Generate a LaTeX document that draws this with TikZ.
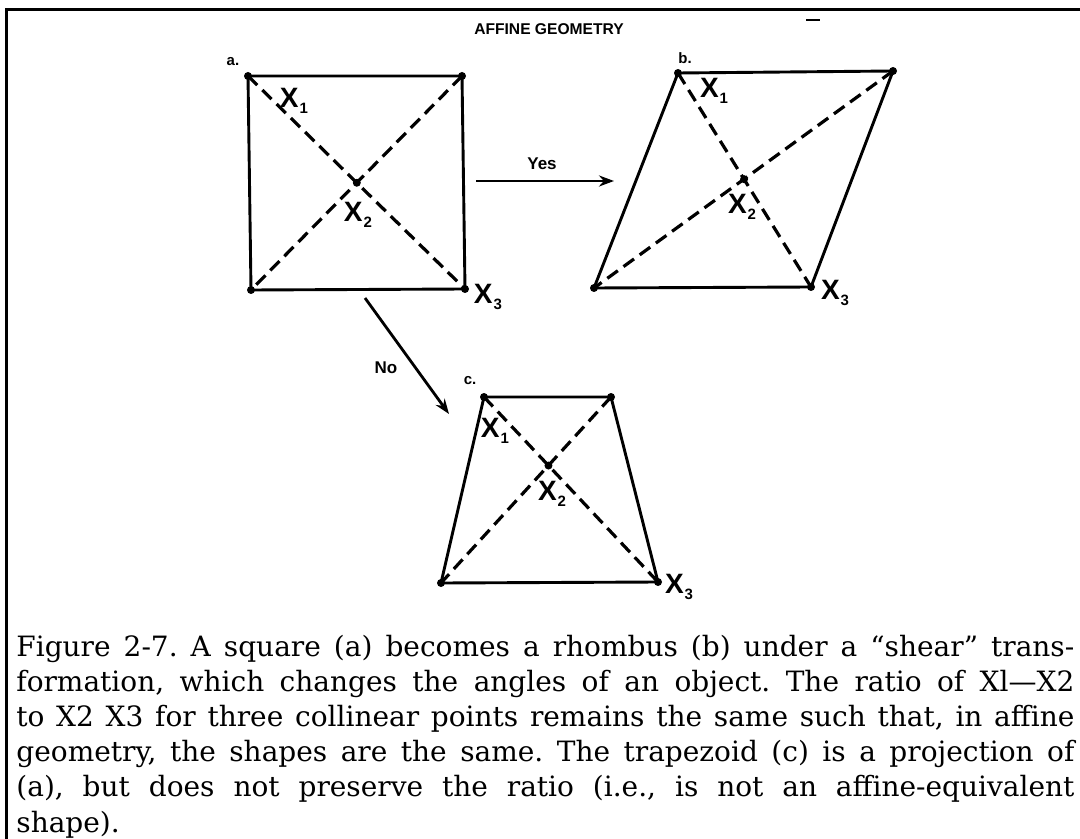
\documentclass[tikz,border=0pt]{standalone}
\usepackage{fontspec}
\setmainfont{DejaVu Serif}
\newfontfamily\labfont{Liberation Sans}
\usetikzlibrary{arrows.meta}
\newcommand{\Xs}[1]{{\labfont\bfseries X\kern0.5pt\raisebox{-2.8pt}{\fontsize{7.5}{7.5}\selectfont #1}}}
\begin{document}
\begin{tikzpicture}[x=0.5pt,y=-0.5pt,
  vtx/.style={circle,fill=black,inner sep=0pt,minimum size=4pt},
  sideline/.style={line width=1.45pt,line join=round},
  diagline/.style={line width=1.6pt,dash pattern=on 6.5pt off 3.5pt},
  arrline/.style={line width=1.4pt,-{Stealth[length=7.5pt,width=5.5pt]}},
  xlab/.style={font=\fontsize{14}{14}\selectfont,inner sep=0pt},
  smalllab/.style={font=\labfont\bfseries\fontsize{7.5}{8}\selectfont,inner sep=0pt},
  captext/.style={anchor=base west,text width=529pt,align=justify,inner sep=0pt,font=\fontsize{14}{17.6}\selectfont}]
\useasboundingbox (0,0) rectangle (1080,839);
% frame
\draw[line width=1.5pt] (6,845) -- (6,9.7) -- (1085,9.7);
\draw[line width=0.9pt] (806,20) -- (820,20);
% title
\node[smalllab,font=\labfont\bfseries\fontsize{7.8}{8}\selectfont] (title) at (549,29) {AFFINE GEOMETRY};
% (a) square
\node[vtx] (aTL) at (248,76) {};
\node[vtx] (aTR) at (462,76) {};
\node[vtx] (aBR) at (465,289) {};
\node[vtx] (aBL) at (251,290) {};
\draw[sideline] (aTL.center) -- (aTR.center) -- (aBR.center) -- (aBL.center) -- cycle;
\draw[diagline] (aTL.center) -- (aBR.center);
\draw[diagline] (aTR.center) -- (aBL.center);
\node[vtx] (aC) at (intersection of aTL--aBR and aTR--aBL) {};
\node[smalllab] (alab) at (233,62) {a.};
\node[xlab] (aX1) at (294,101) {\Xs{1}};
\node[xlab] (aX2) at (358,215) {\Xs{2}};
\node[xlab] (aX3) at (488,297) {\Xs{3}};
% (b) rhombus
\node[vtx] (bTL) at (678,73) {};
\node[vtx] (bTR) at (893,71) {};
\node[vtx] (bBR) at (811,287) {};
\node[vtx] (bBL) at (594,288) {};
\draw[sideline] (bTL.center) -- (bTR.center) -- (bBR.center) -- (bBL.center) -- cycle;
\draw[diagline] (bTL.center) -- (bBR.center);
\draw[diagline] (bTR.center) -- (bBL.center);
\node[vtx] (bC) at (intersection of bTL--bBR and bTR--bBL) {};
\node[smalllab] (blab) at (685,58) {b.};
\node[xlab] (bX1) at (714,91) {\Xs{1}};
\node[xlab] (bX2) at (742,207) {\Xs{2}};
\node[xlab] (bX3) at (835,293) {\Xs{3}};
% (c) trapezoid
\node[vtx] (cTL) at (484,397) {};
\node[vtx] (cTR) at (611,397) {};
\node[vtx] (cBR) at (658,582) {};
\node[vtx] (cBL) at (441,583) {};
\draw[sideline] (cTL.center) -- (cTR.center) -- (cBR.center) -- (cBL.center) -- cycle;
\draw[diagline] (cTL.center) -- (cBR.center);
\draw[diagline] (cTR.center) -- (cBL.center);
\node[vtx] (cC) at (intersection of cTL--cBR and cTR--cBL) {};
\node[smalllab] (clab) at (470,381) {c.};
\node[xlab] (cX1) at (495,431) {\Xs{1}};
\node[xlab] (cX2) at (552,494) {\Xs{2}};
\node[xlab] (cX3) at (679,587) {\Xs{3}};
% arrows
\coordinate (yesS) at (476,181);
\coordinate (yesE) at (614,181);
\draw[arrline] (yesS) -- (yesE);
\node[smalllab,font=\labfont\bfseries\fontsize{8.5}{9}\selectfont] (yes) at (542,164) {Yes};
\coordinate (noS) at (365,298);
\coordinate (noE) at (449,414);
\draw[arrline] (noS) -- (noE);
\node[smalllab,font=\labfont\bfseries\fontsize{8.5}{9}\selectfont] (no) at (386,368) {No};
% caption
\node[captext] (caption) at (16,656) {\frenchspacing Figure 2-7. A square (a) becomes a rhombus (b) under a “shear” trans-\linebreak formation, which changes the angles of an object. The ratio of Xl—X2\linebreak to X2 X3 for three collinear points remains the same such that, in affine\linebreak geometry, the shapes are the same. The trapezoid (c) is a projection of\linebreak (a), but does not preserve the ratio (i.e., is not an affine-equivalent\linebreak shape).};
\end{tikzpicture}
\end{document}
